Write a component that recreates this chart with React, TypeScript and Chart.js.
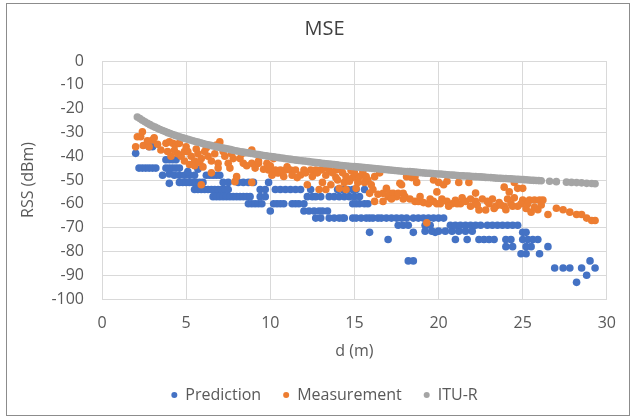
import React, { useEffect, useRef } from "react";
import { Chart, registerables } from "chart.js";

Chart.register(...registerables);

const chartTitle = "MSE";
const xTitle = "d (m)";
const yTitle = "RSS (dBm)";
const seriesNames = ["Prediction", "Measurement", "ITU-R"];
const seriesColors = ["#4472C4", "#ED7D31", "#A5A5A5"];

const predX = [
  2.0, 2.2, 2.4, 2.6, 2.8, 3.0, 3.2, 2.8, 3.0, 3.6, 3.8, 4.0, 4.2, 4.4, 3.8, 4.0, 4.2, 4.4, 4.6, 4.0,
  4.0, 4.3, 4.6, 4.9, 5.2, 5.5, 4.6, 4.8, 5.0, 5.2, 5.4, 5.6, 5.8, 6.0, 5.7, 5.1, 5.5, 5.7, 5.9, 6.1,
  6.3, 6.5, 6.7, 6.9, 7.1, 7.3, 7.5, 6.2, 6.4, 6.6, 6.8, 7.0, 6.6, 6.8, 7.0, 7.2, 7.4, 7.6, 7.8, 8.0,
  8.2, 8.4, 8.6, 8.8, 7.2, 7.5, 8.1, 8.4, 8.7, 9.0, 8.7, 8.9, 9.1, 9.3, 9.5, 9.4, 9.7, 9.4, 9.7, 9.9,
  10.0, 10.2, 10.4, 10.6, 10.8, 10.3, 10.6, 10.9, 11.2, 11.5, 11.8, 11.3, 11.5, 11.7, 12.0, 12.2, 12.5, 12.7, 13.0, 12.0,
  12.3, 12.6, 12.9, 13.1, 13.4, 12.7, 13.0, 13.5, 13.8, 14.1, 14.4, 12.4, 13.5, 13.8, 14.1, 14.4, 14.7, 15.0, 15.3, 14.0,
  14.3, 14.6, 14.9, 15.1, 15.6, 14.9, 15.1, 15.3, 15.6, 15.8, 14.3, 14.9, 15.1, 15.4, 15.7, 15.9, 16.1, 16.4, 16.6, 16.9,
  17.2, 17.5, 17.8, 18.1, 18.5, 15.9, 17.0, 17.6, 17.9, 18.2, 18.5, 18.2, 18.5, 18.8, 19.1, 19.4, 19.7, 20.0, 20.3, 19.2,
  19.5, 19.8, 19.2, 19.6, 20.0, 20.4, 20.8, 21.2, 21.6, 22.0, 20.7, 21.0, 21.3, 21.6, 21.9, 22.2, 22.5, 22.9, 23.2, 23.5,
  23.8, 24.1, 24.4, 24.7, 21.0, 21.7, 22.4, 22.7, 23.0, 23.3, 24.0, 24.3, 24.0, 24.4, 25.0, 25.2, 25.0, 25.3, 25.6, 25.9,
  25.2, 25.5, 26.5, 24.9, 25.2, 26.0, 26.9, 27.4, 27.8, 28.5, 28.2, 28.8, 29.0, 29.3
];
const predY = [
  -38.8, -45, -45, -45, -45, -45, -45, -36, -36, -48, -41.5, -41.5, -41.5, -41.5, -45, -45, -45, -45, -45, -47.5,
  -51.4, -48, -48, -48, -48, -48, -51, -51, -51, -51, -51, -51, -51, -51, -45.5, -46.5, -54, -54, -54, -54,
  -54, -54, -54, -54, -54, -54, -54, -48, -48, -48, -48, -48, -57, -57, -57, -57, -57, -57, -57, -57,
  -57, -57, -57, -57, -51, -51, -51, -51, -51, -51, -60, -60, -60, -60, -60, -54, -54, -57, -57, -51,
  -63, -60, -60, -60, -60, -54, -54, -54, -54, -54, -54, -60, -60, -60, -60, -57, -57, -57, -57, -63,
  -63, -63, -63, -63, -63, -66, -66, -66, -66, -66, -66, -54, -57, -57, -57, -57, -57, -57, -57, -54,
  -54, -54, -54, -54, -54, -60, -60, -60, -60, -60, -66, -66, -66, -66, -66, -66, -66, -66, -66, -66,
  -66, -66, -66, -66, -66, -72, -75, -69, -69, -69, -72, -84, -84, -66, -66, -66, -66, -66, -66, -69,
  -69, -72, -71.5, -71.5, -71.5, -71.5, -71.5, -71.5, -71.5, -71.5, -69, -69, -69, -69, -69, -69, -69, -69, -69, -69,
  -69, -69, -69, -69, -75, -75, -75, -75, -75, -75, -75, -75, -78, -78, -72, -72, -75, -75, -75, -75,
  -78, -78, -78, -81, -81, -81, -87, -87, -87, -87, -93, -90, -84, -87
];

const measX = [
  2.0, 2.1, 2.3, 2.4, 2.45, 2.8, 3.0, 3.1, 3.5, 3.8, 4.0, 4.2, 4.4, 4.6, 3.9, 4.1, 4.3, 4.5, 4.7, 4.9,
  5.1, 5.3, 5.5, 5.7, 5.9, 4.9, 5.2, 5.5, 5.8, 6.0, 6.1, 6.3, 6.5, 6.7, 6.9, 6.8, 7.0, 6.5, 6.9, 5.9,
  7.3, 7.5, 7.6, 7.8, 7.9, 8.0, 8.2, 8.4, 8.6, 8.9, 8.9, 9.1, 9.3, 8.9, 9.3, 9.6, 9.8, 10.2, 10.4, 9.9,
  10.1, 10.3, 10.6, 10.9, 11.2, 11.3, 11.5, 11.8, 12.0, 12.2, 12.4, 12.7, 12.9, 13.0, 13.1, 13.3, 13.3, 13.5, 13.6, 13.9,
  13.9, 14.1, 14.2, 14.4, 14.5, 14.5, 14.8, 14.9, 15.1, 15.3, 15.5, 15.7, 15.8, 15.9, 16.1, 16.2, 16.2, 16.5, 16.7, 16.7,
  16.9, 17.0, 17.1, 17.3, 17.5, 17.7, 17.6, 17.8, 17.9, 18.0, 18.1, 18.4, 18.6, 18.6, 18.8, 18.7, 19.1, 19.3, 19.4, 19.7,
  19.7, 19.9, 19.9, 20.0, 20.2, 20.3, 20.5, 20.5, 20.8, 21.0, 21.2, 21.3, 21.6, 21.8, 21.9, 22.2, 22.2, 22.4, 22.6, 22.8,
  23.0, 23.2, 23.4, 23.6, 23.9, 23.9, 24.1, 24.2, 24.3, 24.5, 24.5, 24.7, 24.7, 25.0, 25.0, 25.2, 25.4, 25.5, 25.7, 25.9,
  26.0, 26.2, 26.5, 27.0, 27.4, 27.8, 28.2, 28.5, 28.8, 29.1, 29.3,
  10.0, 10.5, 10.8, 11.0, 11.6, 12.1, 12.5, 12.8, 13.2, 13.7, 14.0, 14.3, 14.7, 15.0, 15.2, 15.6, 16.0, 16.4, 17.2, 17.9,
  18.3, 18.9, 19.5, 20.1, 20.6, 21.1, 21.4, 21.9, 22.3, 22.9, 23.3, 23.7, 24.0, 24.4, 24.9, 25.3, 25.7, 26.1, 5.0, 5.6,
  6.2, 7.2, 7.7, 8.3, 3.3, 2.7
];
const measY = [
  -36, -31.8, -31.8, -29.7, -35.5, -36, -33.2, -32.3, -37.4, -34.6, -33.9, -34.6, -35, -34.6, -38, -40, -37.5, -39, -40, -38,
  -38, -40, -42, -39, -41, -42, -43.5, -44, -42.5, -44.5, -38, -40, -42, -39, -43, -35.3, -34, -47, -45, -52,
  -40, -43, -45, -41, -50.7, -48.6, -41, -43, -44, -37.4, -43, -45, -43, -51, -42, -45.5, -43, -41, -47, -45.8,
  -48, -45.8, -45.8, -45.8, -45.8, -48, -45.8, -47.9, -45.8, -52, -45.8, -45.8, -54, -45.8, -51, -48, -54, -45.8, -52, -45.8,
  -49, -53.5, -45.8, -51, -48.6, -54, -46, -49, -53.5, -48.6, -46.5, -48.6, -50, -55.6, -54, -48.6, -59, -47, -59, -55.6,
  -53.5, -57, -55.6, -55.6, -57, -51.4, -55.6, -52, -55.6, -57, -48.6, -49, -48.6, -59, -59, -51, -59.5, -68, -60, -50,
  -59, -55, -60, -51, -58, -52, -50.5, -59, -60, -58.5, -51, -60, -59, -51, -61, -55.5, -59, -62.6, -58, -62.6,
  -60, -58, -61, -59.5, -61, -53, -58, -55, -60, -51, -57.5, -53.5, -61, -53.5, -58.4, -62, -58.4, -63.5, -58.4, -62.5,
  -58.4, -58.4, -64.5, -61.9, -62.5, -63.5, -64.5, -64.5, -66, -67, -67,
  -44, -47, -48.5, -44.5, -49, -47, -48.5, -47, -45, -47, -50, -47, -50.5, -47, -51, -51, -52, -56, -58, -58,
  -58, -57, -58, -60, -61, -60, -57.5, -58, -60.5, -59, -62, -60.5, -62.5, -61, -60, -60, -61.5, -60.5, -36, -37,
  -36.5, -38, -39, -39, -35, -33.5
];

const ituX = [
  2.1, 2.4, 2.7, 3.0, 3.3, 3.6, 3.9, 4.2, 4.5, 4.8, 5.1, 5.4, 5.7, 6.0, 6.3, 6.6, 6.9, 7.2, 7.5, 7.8,
  8.1, 8.4, 8.7, 9.0, 9.3, 9.6, 9.9, 10.2, 10.5, 10.8, 11.1, 11.4, 11.7, 12.0, 12.3, 12.6, 12.9, 13.2, 13.5, 13.8,
  14.1, 14.4, 14.7, 15.0, 15.3, 15.6, 15.9, 16.2, 16.5, 16.8, 17.1, 17.4, 17.7, 18.0, 18.3, 18.6, 18.9, 19.2, 19.5, 19.8,
  20.1, 20.4, 20.7, 21.0, 21.3, 21.6, 21.9, 22.2, 22.5, 22.8, 23.1, 23.4, 23.7, 24.0, 24.3, 24.6, 24.9, 25.2, 25.5, 25.8,
  26.1, 26.6, 27.0, 27.6, 27.9, 28.2, 28.5, 28.8, 29.1, 29.3,
  2.25, 2.55, 2.85, 3.15, 3.45, 3.75, 4.05, 4.35, 4.65, 4.95, 5.25, 5.55, 5.85, 6.15, 6.45, 6.75, 7.05, 7.35, 7.65, 7.95,
  8.25, 8.55, 8.85, 9.15, 9.45, 9.75, 10.05, 10.35, 10.65, 10.95, 11.25, 11.55, 11.85, 12.15, 12.45, 12.75, 13.05, 13.35, 13.65, 13.95,
  14.25, 14.55, 14.85, 15.15, 15.45, 15.75, 16.05, 16.35, 16.65, 16.95, 17.25, 17.55, 17.85, 18.15, 18.45, 18.75, 19.05, 19.35, 19.65, 19.95,
  20.25, 20.55, 20.85, 21.15, 21.45, 21.75, 22.05, 22.35, 22.65, 22.95, 23.25, 23.55, 23.85, 24.15, 24.45, 24.75, 25.05, 25.35, 25.65, 25.95
];
const ituY = [
  -23.5, -24.9, -26.2, -27.3, -28.3, -29.2, -30.1, -30.9, -31.6, -32.3, -32.9, -33.5, -34.1, -34.7, -35.2, -35.7, -36.2, -36.6, -37.0, -37.5,
  -37.9, -38.3, -38.6, -39.0, -39.3, -39.7, -40.0, -40.3, -40.6, -40.9, -41.2, -41.5, -41.8, -42.0, -42.3, -42.6, -42.8, -43.1, -43.3, -43.5,
  -43.8, -44.0, -44.2, -44.4, -44.6, -44.8, -45.0, -45.2, -45.4, -45.6, -45.8, -46.0, -46.2, -46.4, -46.5, -46.7, -46.9, -47.1, -47.2, -47.4,
  -47.5, -47.7, -47.9, -48.0, -48.2, -48.3, -48.4, -48.6, -48.7, -48.9, -49.0, -49.2, -49.3, -49.4, -49.5, -49.7, -49.8, -49.9, -50.1, -50.2,
  -50.3, -50.5, -50.7, -50.9, -51.0, -51.1, -51.2, -51.4, -51.5, -51.6,
  -24.2, -25.55, -26.75, -27.8, -28.75, -29.65, -30.5, -31.25, -31.95, -32.6, -33.2, -33.8, -34.4, -34.95, -35.45, -35.95, -36.4, -36.8, -37.25, -37.7,
  -38.1, -38.45, -38.8, -39.15, -39.5, -39.85, -40.15, -40.45, -40.75, -41.05, -41.35, -41.65, -41.9, -42.15, -42.45, -42.7, -42.95, -43.2, -43.4, -43.65,
  -43.9, -44.1, -44.3, -44.5, -44.7, -44.9, -45.1, -45.3, -45.5, -45.7, -45.9, -46.1, -46.3, -46.45, -46.6, -46.8, -47.0, -47.15, -47.3, -47.45,
  -47.6, -47.8, -47.95, -48.1, -48.25, -48.35, -48.5, -48.65, -48.8, -48.95, -49.1, -49.25, -49.35, -49.45, -49.6, -49.75, -49.85, -50.0, -50.15, -50.25
];

const toPoints = (xs: number[], ys: number[]) => xs.map((x, i) => ({ x, y: ys[i] }));

const FONT = "'Open Sans', 'Noto Sans', sans-serif";
const TEXT = "#595959";
const GRID = "#D9D9D9";

export default function App() {
  const ref = useRef<HTMLCanvasElement | null>(null);

  useEffect(() => {
    if (!ref.current) return;
    const seriesX = [predX, measX, ituX];
    const seriesY = [predY, measY, ituY];
    const chart = new Chart(ref.current, {
      type: "scatter",
      data: {
        datasets: seriesNames.map((name, i) => ({
          label: name,
          data: toPoints(seriesX[i], seriesY[i]),
          backgroundColor: seriesColors[i],
          borderColor: seriesColors[i],
          borderWidth: 0,
          pointRadius: 3.8,
          pointHoverRadius: 3.8,
          order: 3 - i,
        })),
      },
      options: {
        animation: false,
        responsive: false,
        devicePixelRatio: 1,
        layout: { padding: { left: 37, right: 19, top: 0, bottom: 5 } },
        plugins: {
          tooltip: { enabled: false },
          title: {
            display: true,
            text: chartTitle,
            color: "#404040",
            font: { family: FONT, size: 20, weight: "normal" },
            padding: { top: 17, bottom: 20 },
          },
          legend: {
            position: "bottom",
            labels: {
              usePointStyle: true,
              pointStyle: "circle",
              boxWidth: 6,
              boxHeight: 4.25,
              padding: 22,
              color: TEXT,
              font: { family: FONT, size: 16 },
              sort: (a: any, b: any) => a.datasetIndex - b.datasetIndex,
            },
          },
        },
        scales: {
          x: {
            type: "linear",
            min: 0,
            max: 30,
            ticks: { stepSize: 5, color: TEXT, font: { family: FONT, size: 16 }, padding: 15 },
            grid: { color: GRID, drawTicks: false },
            border: { color: GRID },
            title: {
              display: true,
              text: xTitle,
              color: TEXT,
              font: { family: FONT, size: 16 },
              padding: { top: 0, bottom: 4 },
            },
            afterFit: (scale: any) => {
              scale.height = 66;
            },
          },
          y: {
            type: "linear",
            min: -100,
            max: 0,
            ticks: { stepSize: 10, color: TEXT, font: { family: FONT, size: 16 }, padding: 18 },
            grid: { color: GRID, drawTicks: false },
            border: { color: GRID },
            title: {
              display: true,
              text: yTitle,
              color: TEXT,
              font: { family: FONT, size: 16 },
              padding: { top: -18.5, bottom: 0 },
            },
            afterFit: (scale: any) => {
              scale.width = 65;
            },
          },
        },
      },
    });
    return () => chart.destroy();
  }, []);

  return (
    <div style={{ position: "absolute", left: 0, top: 0, width: 631, height: 418, background: "#fff" }}>
      <canvas ref={ref} width={631} height={418} style={{ display: "block", width: 631, height: 418 }} />
      <div
        style={{
          position: "absolute",
          left: 6,
          top: 3,
          width: 622,
          height: 411,
          border: "1px solid #8C8C8C",
          pointerEvents: "none",
        }}
      />
    </div>
  );
}
